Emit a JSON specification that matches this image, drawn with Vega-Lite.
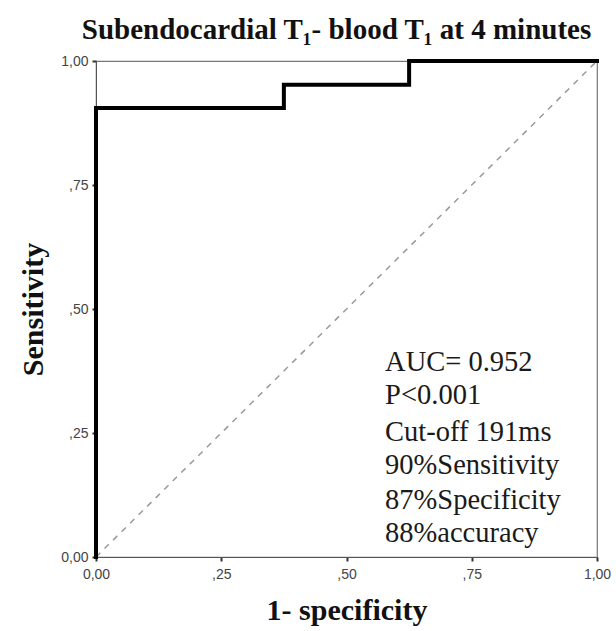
{
  "$schema": "https://vega.github.io/schema/vega-lite/v6.json",
  "width": 501,
  "height": 496,
  "autosize": {"type": "none"},
  "padding": {"left": 96, "top": 61, "right": 19, "bottom": 74},
  "background": "white",
  "title": {
    "text": "Subendocardial T₁- blood T₁ at 4 minutes",
    "font": "Liberation Serif",
    "fontSize": 29,
    "fontWeight": "bold",
    "color": "#111",
    "anchor": "middle",
    "dx": -10,
    "offset": 8
  },
  "config": {
    "view": {"stroke": "#777", "strokeWidth": 1.2},
    "axis": {
      "grid": false,
      "domainColor": "#555",
      "tickColor": "#333",
      "tickSize": 4,
      "tickWidth": 2,
      "labelFont": "Liberation Sans",
      "labelFontSize": 14,
      "labelColor": "#444",
      "labelFlush": false,
      "titleFont": "Liberation Serif",
      "titleFontSize": 30,
      "titleFontWeight": "bold",
      "titleColor": "#111"
    }
  },
  "datasets": {
    "roc": [
      {"order": 1, "fpr": 0, "tpr": 0},
      {"order": 2, "fpr": 0, "tpr": 0.905},
      {"order": 3, "fpr": 0.375, "tpr": 0.905},
      {"order": 4, "fpr": 0.375, "tpr": 0.952},
      {"order": 5, "fpr": 0.625, "tpr": 0.952},
      {"order": 6, "fpr": 0.625, "tpr": 1},
      {"order": 7, "fpr": 1, "tpr": 1}
    ],
    "ref": [
      {"order": 1, "fpr": 0, "tpr": 0},
      {"order": 2, "fpr": 1, "tpr": 1}
    ],
    "notes": [
      {"fpr": 0.577, "tpr": 0.393, "label": "AUC= 0.952"},
      {"fpr": 0.577, "tpr": 0.327, "label": "P<0.001"},
      {"fpr": 0.577, "tpr": 0.252, "label": "Cut-off 191ms"},
      {"fpr": 0.577, "tpr": 0.185, "label": "90%Sensitivity"},
      {"fpr": 0.577, "tpr": 0.115, "label": "87%Specificity"},
      {"fpr": 0.577, "tpr": 0.048, "label": "88%accuracy"}
    ]
  },
  "layer": [
    {
      "data": {"name": "ref"},
      "mark": {"type": "line", "color": "#999", "strokeWidth": 1.5, "strokeDash": [6, 6]},
      "encoding": {
        "x": {
          "field": "fpr", "type": "quantitative",
          "scale": {"domain": [0, 1], "nice": false},
          "axis": {
            "values": [0, 0.25, 0.5, 0.75, 1],
            "labelExpr": "datum.value == 0 ? '0,00' : datum.value == 1 ? '1,00' : replace(format(datum.value, '.2f'), '0.', ',')",
            "labelPadding": 6,
            "title": "1- specificity",
            "titlePadding": 14
          }
        },
        "y": {
          "field": "tpr", "type": "quantitative",
          "scale": {"domain": [0, 1], "nice": false},
          "axis": {
            "values": [0, 0.25, 0.5, 0.75, 1],
            "labelExpr": "datum.value == 0 ? '0,00' : datum.value == 1 ? '1,00' : replace(format(datum.value, '.2f'), '0.', ',')",
            "labelPadding": 4,
            "title": "Sensitivity",
            "titlePadding": 12
          }
        },
        "order": {"field": "order", "type": "quantitative"}
      }
    },
    {
      "data": {"name": "roc"},
      "mark": {"type": "line", "color": "#000", "strokeWidth": 4, "strokeJoin": "miter", "strokeCap": "square"},
      "encoding": {
        "x": {"field": "fpr", "type": "quantitative"},
        "y": {"field": "tpr", "type": "quantitative"},
        "order": {"field": "order", "type": "quantitative"}
      }
    },
    {
      "data": {"name": "notes"},
      "mark": {"type": "text", "align": "left", "baseline": "middle", "font": "Liberation Serif", "fontSize": 28.5, "color": "#1a1a1a"},
      "encoding": {
        "x": {"field": "fpr", "type": "quantitative"},
        "y": {"field": "tpr", "type": "quantitative"},
        "text": {"field": "label"}
      }
    }
  ]
}
